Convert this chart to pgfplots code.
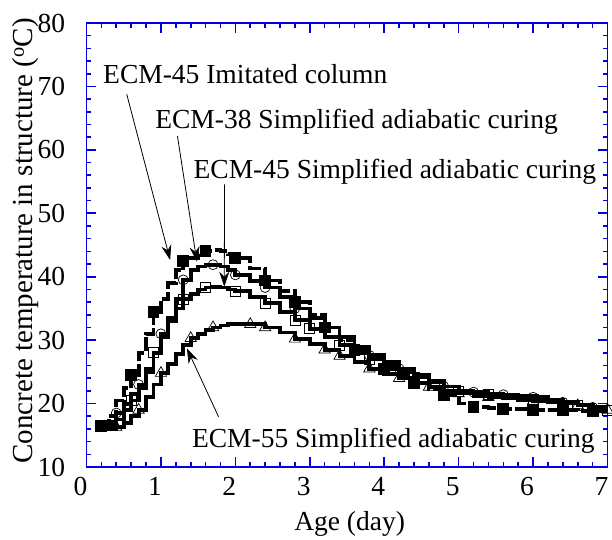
\documentclass[border=0pt]{standalone}
\usepackage{fontspec}
\setmainfont{Liberation Serif}
\usepackage{pgfplots}
\usepackage{pgfplotstable}
\pgfplotsset{compat=1.18}
\usetikzlibrary{arrows.meta}
\definecolor{axblue}{RGB}{0,0,225}

\pgfplotstableread{
x y
0.2 16.5
0.3 18
0.4 20.5
0.5 22.5
0.6 24.5
0.7 28
0.8 31
0.9 34.5
1.0 36.5
1.1 39
1.2 41
1.3 42.5
1.4 43
1.5 43.6
1.6 44.1
1.7 44.2
1.8 44
1.9 43.6
2.0 43
2.2 41.3
2.4 39.4
2.6 37.8
2.8 36
3.0 34
3.2 32
3.4 30
3.6 28.5
3.8 27
4.0 25.5
4.2 24.5
4.4 23.3
4.6 22.3
4.8 21.3
5.0 20
5.2 19.4
5.4 19.3
5.6 19.2
5.8 19.2
6.0 19
6.2 19
6.4 19
6.6 18.8
6.8 18.8
7.0 18.7
}\dataA

\pgfplotstableread{
x y
0.2 16.5
0.3 17
0.4 18.5
0.5 20
0.6 21.5
0.7 23
0.8 25.5
0.9 28
1.0 31
1.1 33.5
1.2 36.5
1.3 39.5
1.4 41
1.5 41.6
1.6 41.9
1.7 41.9
1.8 41.6
1.9 41
2.0 40.3
2.2 39.3
2.4 38.3
2.6 36.8
2.8 35
3.0 33.5
3.2 32
3.4 30.5
3.6 29
3.8 27.6
4.0 26.5
4.2 25.5
4.4 24.5
4.6 23.5
4.8 22.7
5.0 22
5.2 21.8
5.4 21.6
5.6 21.4
5.8 21.2
6.0 21
6.2 20.6
6.4 20.2
6.6 19.8
6.8 19.4
7.0 19
}\dataB

\pgfplotstableread{
x y
0.2 16
0.3 16.5
0.4 17.5
0.5 19
0.6 20.5
0.7 22.5
0.8 25
0.9 28
1.0 30.5
1.1 33
1.2 35
1.3 36.5
1.4 37.3
1.5 38
1.6 38.3
1.7 38.4
1.8 38.3
1.9 38
2.0 37.7
2.2 36.8
2.4 35.8
2.6 34.5
2.8 33.2
3.0 31.8
3.2 30.5
3.4 29.2
3.6 28
3.8 27
4.0 26
4.2 25
4.4 24.2
4.6 23.4
4.8 22.7
5.0 22
5.2 21.8
5.4 21.5
5.6 21.2
5.8 21
6.0 20.7
6.2 20.4
6.4 20
6.6 19.7
6.8 19.4
7.0 19
}\dataC

\pgfplotstableread{
x y
0.3 16
0.4 16.3
0.5 17
0.6 18
0.7 19
0.8 21
0.9 23
1.0 24.8
1.1 26.3
1.2 27.8
1.3 29.2
1.4 30.3
1.5 31
1.6 31.6
1.7 32
1.8 32.3
1.9 32.5
2.0 32.6
2.2 32.5
2.4 32
2.6 31.2
2.8 30.2
3.0 29.4
3.2 28.5
3.4 27.5
3.6 26.5
3.8 25.5
4.0 24.7
4.2 24
4.4 23.2
4.6 22.6
4.8 22
5.0 21.6
5.2 21.2
5.4 21
5.6 20.8
5.8 20.6
6.0 20.4
6.2 20.2
6.4 20
6.6 19.7
6.8 19.4
7.0 19
}\dataD

\begin{document}
\fontsize{27.5}{33}\selectfont
\begin{tikzpicture}
\begin{axis}[
  scale only axis,
  width=521pt, height=444pt,
  xmin=0, xmax=7, ymin=10, ymax=80,
  xtick={0,1,...,7}, ytick={10,20,...,80},
  minor x tick num=4, minor y tick num=4,
  tick align=inside,
  major tick length=10pt, minor tick length=5pt,
  axis line style={axblue, line width=1.6pt},
  every tick/.style={axblue, line width=1.6pt},
  font=\fontsize{27.5}{33}\selectfont,
  /pgf/number format/assume math mode=true,
  yticklabel style={xshift=-12pt},
  xticklabel style={xshift=-6pt, yshift=-1pt},
  xlabel={Age (day)},
  ylabel={Concrete temperature in structure (\textsuperscript{o}C)},
  every axis x label/.style={at={(axis description cs:0.505,-0.142)},anchor=base},
  every axis y label/.style={at={(axis description cs:-0.1027,0.509)},rotate=90,anchor=base,font=\fontsize{29}{34}\selectfont},
]
% ECM-55 simplified (triangles)
\addplot[const plot, black, line width=3.8pt, mark=triangle, mark size=6.5pt,
  mark options={solid, fill=white, line width=0.7pt},
  mark indices={2,5,8,12,15,19,20,22,24,25,27,29,31,33,35,38,41,43}] table {\dataD};
% ECM-45 simplified (open squares)
\addplot[const plot, black, line width=3.8pt, mark=square, mark size=5pt,
  mark options={solid, fill=white, line width=0.7pt},
  mark indices={2,5,8,12,15,19,21,23,24,26,28,31,34,36,39,42,44}] table {\dataC};
% ECM-38 simplified (open circles)
\addplot[const plot, black, line width=3.8pt, mark=o, mark size=5pt,
  mark options={solid, fill=white, line width=0.7pt},
  mark indices={3,6,9,12,16,19,21,23,25,28,30,33,35,37,39,41,43}] table {\dataB};
% ECM-45 imitated column (filled squares)
\addplot[const plot, black, line width=3.8pt, dash pattern=on 14pt off 3pt, mark=square*, mark size=4pt,
  mark options={solid, fill=black},
  mark indices={1,5,8,12,15,19,21,23,25,27,29,31,33,35,37,39,41,43}] table {\dataA};

\node[anchor=base west, inner sep=0pt] at (axis cs:0.222,70.54) {ECM-45 Imitated column};
\node[anchor=base west, inner sep=0pt] at (axis cs:0.922,63.29) {ECM-38 Simplified adiabatic curing};
\node[anchor=base west, inner sep=0pt] at (axis cs:1.437,55.56) {ECM-45 Simplified adiabatic curing};
\node[anchor=base west, inner sep=0pt] at (axis cs:1.416,13.0) {ECM-55 Simplified adiabatic curing};

\draw[line width=0.8pt, -{Stealth[length=15pt,width=10pt,inset=5pt]}] (axis cs:0.541,68.76) -- (axis cs:1.124,42.63);
\draw[line width=0.8pt, -{Stealth[length=15pt,width=10pt,inset=5pt]}] (axis cs:1.222,62.18) -- (axis cs:1.483,42.37);
\draw[line width=0.8pt, -{Stealth[length=15pt,width=10pt,inset=5pt]}] (axis cs:1.855,54.57) -- (axis cs:1.851,38.43);
\draw[line width=0.8pt, -{Stealth[length=15pt,width=10pt,inset=5pt]}] (axis cs:1.774,17.93) -- (axis cs:1.349,28.71);
\end{axis}
\pgfresetboundingbox
\path[use as bounding box] (-86.5pt,-72pt) rectangle (525.5pt,467pt);
\end{tikzpicture}
\end{document}
